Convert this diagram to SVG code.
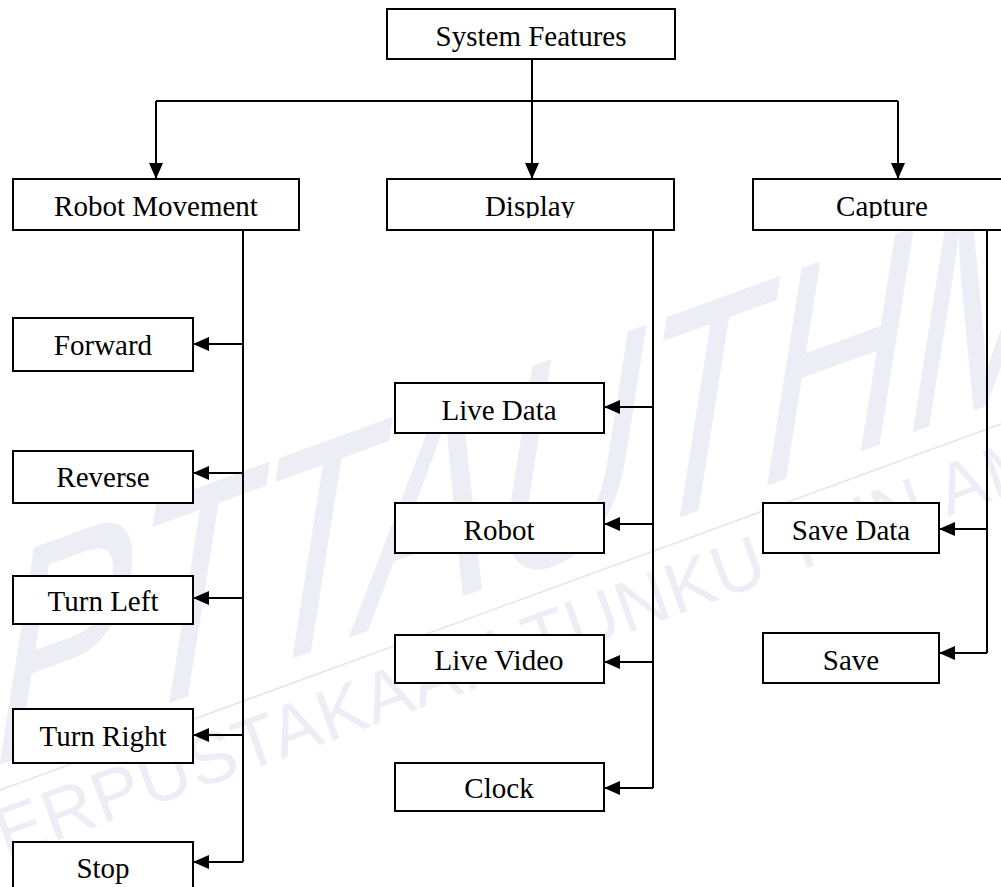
<svg xmlns="http://www.w3.org/2000/svg" width="1001" height="887" viewBox="0 0 1001 887">
<style>
.box{fill:#fff;stroke:#000;stroke-width:2}
.lbl{font-family:"Liberation Serif","Times New Roman",serif;font-size:29px;fill:#000;text-anchor:middle}
.con{fill:none;stroke:#000;stroke-width:2}
.wm{font-family:"Liberation Sans",Arial,sans-serif;fill:#ededf5}
</style>
<defs>
<marker id="ah" markerUnits="userSpaceOnUse" markerWidth="16" markerHeight="14" refX="16" refY="7" orient="auto">
<path d="M0,0 L16,7 L0,14 z" fill="#000"/>
</marker>
<clipPath id="topclip"><rect x="0" y="0" width="1001" height="218"/></clipPath>
</defs>
<rect width="1001" height="887" fill="#fff"/>
<g id="watermark">
<text class="wm" font-size="280" textLength="1150" lengthAdjust="spacingAndGlyphs" transform="translate(-17,771) rotate(-20) skewX(-29)">PTTAUTHM</text>
<line x1="0" y1="790" x2="1001" y2="424" stroke="#e4e4ee" stroke-width="1.5"/>
<text class="wm" font-size="72" letter-spacing="1" transform="translate(-40,876) rotate(-20)">PERPUSTAKAAN TUNKU TUN AMINAH</text>
</g>
<g id="connectors">
<path class="con" d="M532,59 V101"/>
<path class="con" d="M156,101 H898"/>
<path class="con" d="M156,101 V179" marker-end="url(#ah)"/>
<path class="con" d="M532,101 V179" marker-end="url(#ah)"/>
<path class="con" d="M898,101 V179" marker-end="url(#ah)"/>
<path class="con" d="M243,230 V862"/>
<path class="con" d="M243,344 H193" marker-end="url(#ah)"/>
<path class="con" d="M243,473 H193" marker-end="url(#ah)"/>
<path class="con" d="M243,598 H193" marker-end="url(#ah)"/>
<path class="con" d="M243,735 H193" marker-end="url(#ah)"/>
<path class="con" d="M243,862 H193" marker-end="url(#ah)"/>
<path class="con" d="M653,230 V788"/>
<path class="con" d="M653,407 H604" marker-end="url(#ah)"/>
<path class="con" d="M653,524 H604" marker-end="url(#ah)"/>
<path class="con" d="M653,662 H604" marker-end="url(#ah)"/>
<path class="con" d="M653,788 H604" marker-end="url(#ah)"/>
<path class="con" d="M987,230 V653"/>
<path class="con" d="M987,529 H939" marker-end="url(#ah)"/>
<path class="con" d="M987,653 H939" marker-end="url(#ah)"/>
</g>
<g id="system-features"><rect class="box" x="387" y="9" width="288" height="50"/><text class="lbl" x="531" y="46">System Features</text></g>
<g id="robot-movement"><rect class="box" x="13" y="179" width="286" height="51"/><text class="lbl" x="156" y="216" clip-path="url(#topclip)">Robot Movement</text></g>
<g id="display"><rect class="box" x="387" y="179" width="287" height="51"/><text class="lbl" x="530" y="216" clip-path="url(#topclip)">Display</text></g>
<g id="capture"><rect class="box" x="753" y="179" width="260" height="51"/><text class="lbl" x="882" y="216" clip-path="url(#topclip)">Capture</text></g>
<g id="forward"><rect class="box" x="13" y="318" width="180" height="53"/><text class="lbl" x="103" y="355">Forward</text></g>
<g id="reverse"><rect class="box" x="13" y="451" width="180" height="52"/><text class="lbl" x="103" y="487">Reverse</text></g>
<g id="turn-left"><rect class="box" x="13" y="576" width="180" height="48"/><text class="lbl" x="103" y="611">Turn Left</text></g>
<g id="turn-right"><rect class="box" x="13" y="709" width="180" height="54"/><text class="lbl" x="103" y="746">Turn Right</text></g>
<g id="stop"><rect class="box" x="13" y="842" width="180" height="60"/><text class="lbl" x="103" y="878">Stop</text></g>
<g id="live-data"><rect class="box" x="395" y="383" width="209" height="50"/><text class="lbl" x="499" y="420">Live Data</text></g>
<g id="robot"><rect class="box" x="395" y="503" width="209" height="50"/><text class="lbl" x="499" y="540">Robot</text></g>
<g id="live-video"><rect class="box" x="395" y="635" width="209" height="48"/><text class="lbl" x="499" y="670">Live Video</text></g>
<g id="clock"><rect class="box" x="395" y="763" width="209" height="48"/><text class="lbl" x="499" y="798">Clock</text></g>
<g id="save-data"><rect class="box" x="763" y="503" width="176" height="50"/><text class="lbl" x="851" y="540">Save Data</text></g>
<g id="save"><rect class="box" x="763" y="633" width="176" height="50"/><text class="lbl" x="851" y="670">Save</text></g>
</svg>
